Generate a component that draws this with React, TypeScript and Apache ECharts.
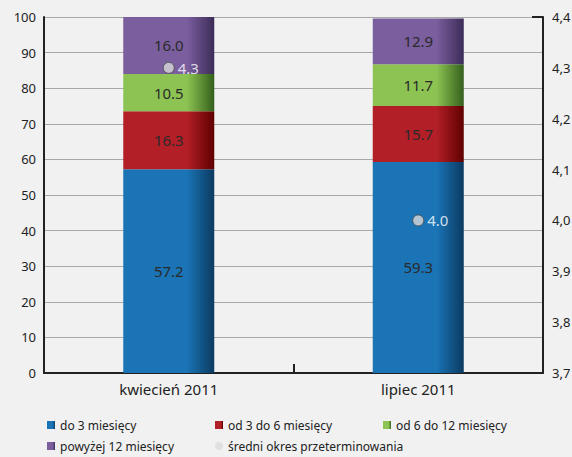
import React, { useEffect, useRef } from "react";
import * as echarts from "echarts";

const categories = ["kwiecień 2011", "lipiec 2011"];
const seriesNames = [
  "do 3 miesięcy",
  "od 3 do 6 miesięcy",
  "od 6 do 12 miesięcy",
  "powyżej 12 miesięcy",
];
const upTo3 = [57.2, 59.3];
const from3to6 = [16.3, 15.7];
const from6to12 = [10.5, 11.7];
const over12 = [16.0, 12.9];
const avgName = "średni okres przeterminowania";
const avgPeriod = [4.3, 4.0];
const leftTicks = { min: 0, max: 100, interval: 10 };
const rightTicks = { min: 3.7, max: 4.4, interval: 0.1 };

const baseColors = ["#1a74b6", "#b21f26", "#8cc352", "#7a5e9e"];
const darkColors = ["#0b3a60", "#600000", "#34601c", "#3c2c58"];

const FONT = "Noto Sans";

export default function App() {
  const ref = useRef<HTMLDivElement>(null);
  useEffect(() => {
    if (!ref.current) return;
    const chart = echarts.init(ref.current, undefined, { renderer: "svg" });
    const stacks = [upTo3, from3to6, from6to12, over12];
    const barSeries = stacks.map((data, i) => ({
      name: seriesNames[i],
      type: "bar",
      stack: "total",
      barWidth: 91,
      data,
      itemStyle: {
        color: new echarts.graphic.LinearGradient(1, 0, 0, 0, [
          { offset: 0, color: darkColors[i] },
          { offset: 0.3, color: baseColors[i] },
          { offset: 1, color: baseColors[i] },
        ]),
      },
      label: {
        show: true,
        position: "inside",
        color: "#2a2a2a",
        fontSize: 15,
        fontFamily: FONT,
        formatter: (p: any) => Number(p.value).toFixed(1),
      },
    }));
    const legendText = { color: "#222", fontSize: 12, fontFamily: FONT };
    const legendBase = {
      orient: "vertical",
      top: 419,
      itemWidth: 8,
      itemHeight: 8,
      itemGap: 9,
      icon: "rect",
      textStyle: legendText,
      padding: 0,
    };
    chart.setOption({
      animation: false,
      backgroundColor: "#f1f1f1",
      color: [...baseColors, "#d9d9d9"],
      grid: { left: 44, right: 29, top: 17, bottom: 84, outerBoundsMode: "none", containLabel: false },
      legend: [
        { ...legendBase, data: [seriesNames[0], seriesNames[3]], left: 47 },
        {
          ...legendBase,
          data: [
            seriesNames[1],
            { name: avgName, icon: "circle", itemStyle: { color: "#dcdcdc", borderWidth: 0 } },
          ],
          left: 215,
        },
        { ...legendBase, data: [seriesNames[2]], left: 383 },
      ],
      xAxis: {
        type: "category",
        data: categories,
        axisLine: { show: true, lineStyle: { color: "#222", width: 2 } },
        axisTick: { show: true, inside: true, length: 9, lineStyle: { color: "#222", width: 2 } },
        axisLabel: { color: "#222", fontSize: 15, fontFamily: FONT, margin: 8 },
      },
      yAxis: [
        {
          type: "value",
          min: leftTicks.min,
          max: leftTicks.max,
          interval: leftTicks.interval,
          axisLine: { show: true, lineStyle: { color: "#222", width: 2 } },
          axisTick: { show: false },
          splitLine: { show: true, lineStyle: { color: "#a8a8a8", width: 1 } },
          axisLabel: { color: "#222", fontSize: 13, fontFamily: FONT, margin: 8 },
        },
        {
          type: "value",
          position: "right",
          min: rightTicks.min,
          max: rightTicks.max,
          interval: rightTicks.interval,
          axisLine: { show: true, lineStyle: { color: "#222", width: 2 } },
          axisTick: {
            show: true,
            inside: true,
            length: 11,
            customValues: [rightTicks.max],
            lineStyle: { color: "#222", width: 2 },
          },
          splitLine: { show: false },
          axisLabel: {
            color: "#222",
            fontSize: 13,
            fontFamily: FONT,
            margin: 9,
            formatter: (v: number) => v.toFixed(1).replace(".", ","),
          },
        },
      ],
      series: [
        ...barSeries,
        {
          name: avgName,
          type: "scatter",
          yAxisIndex: 1,
          data: avgPeriod,
          symbol: "circle",
          symbolSize: 11,
          itemStyle: { color: "#d9d9d9", borderColor: "#4a4a4a", borderWidth: 1 },
          label: {
            show: true,
            position: "right",
            distance: 3,
            color: "#ffffff",
            fontSize: 15,
            fontFamily: FONT,
            formatter: (p: any) => Number(p.value).toFixed(1),
          },
          z: 5,
        },
      ],
    });
    return () => chart.dispose();
  }, []);
  return (
    <div
      ref={ref}
      style={{ position: "fixed", left: 0, top: 0, width: 572, height: 457 }}
    />
  );
}
